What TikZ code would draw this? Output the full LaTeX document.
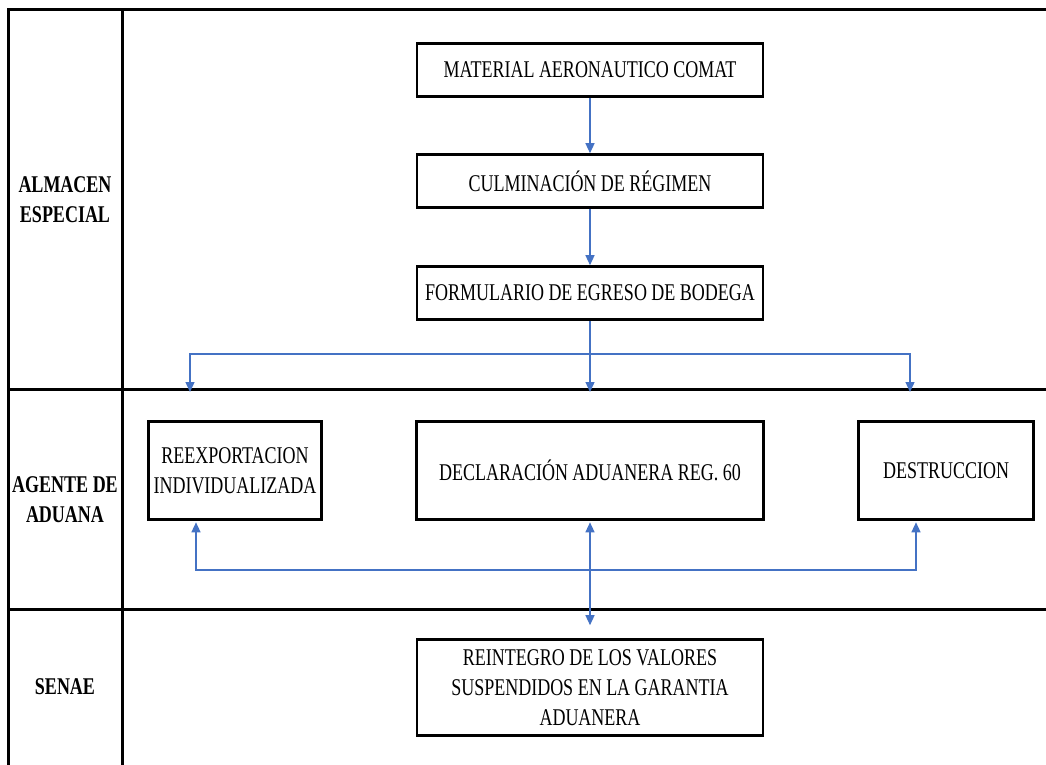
\documentclass[tikz,border=0pt]{standalone}
\usepackage{fontspec}
\setmainfont{Liberation Serif}[FakeStretch=0.75]
\usetikzlibrary{arrows.meta}
\definecolor{flujo}{RGB}{68,114,196}

\begin{document}
\begin{tikzpicture}[%
      x=1pt, y=-1pt,
      caja/.style={draw=black, line width=2.6pt, align=center, inner sep=2pt,
        font=\fontsize{24}{30}\selectfont},
      carril/.style={align=center, font=\fontsize{24}{30}\selectfont\bfseries},
      flecha/.style={color=flujo, line width=1.3pt, -{Triangle[length=10pt,width=9pt]}},
      ]
      \useasboundingbox (0,0) rectangle (1046,764);
      \draw [color=black, line width=3pt] (1046,9.5) -- (8,9.5) -- (8,770);
      \draw [color=black, line width=3pt] (122,9.5) -- (122,770);
      \draw [color=black, line width=3pt] (8,389) -- (1046,389);
      \draw [color=black, line width=3pt] (8,609) -- (1046,609);

      \node [carril] (almacen) at (65,200) {ALMACEN\\ESPECIAL};
      \node [carril] (agente) at (65,500) {AGENTE DE\\ADUANA};
      \node [carril] (senae) at (65,687) {SENAE};

      \node [caja, minimum width=346pt, minimum height=53pt] (material) at (590,70) {MATERIAL AERONAUTICO COMAT};
      \node [caja, minimum width=346pt, minimum height=53pt] (culmina) at (590,181) {CULMINACIÓN DE RÉGIMEN};
      \node [caja, minimum width=346pt, minimum height=53pt] (formulario) at (590,293) {FORMULARIO DE EGRESO DE BODEGA};
      \node [caja, minimum width=173pt, minimum height=98pt] (reexpor) at (235,470.5) {REEXPORTACION\\INDIVIDUALIZADA};
      \node [caja, minimum width=347pt, minimum height=98pt] (declara) at (590,470.5) {DECLARACIÓN ADUANERA REG. 60};
      \node [caja, minimum width=175pt, minimum height=98pt] (destruc) at (946,470.5) {DESTRUCCION};
      \node [caja, minimum width=346pt, minimum height=96pt] (reintegro) at (590,687.5) {REINTEGRO DE LOS VALORES\\SUSPENDIDOS EN LA GARANTIA\\ADUANERA};

      \coordinate (reparto) at (590,354);
      \coordinate (entraReex) at (190,392);
      \coordinate (entraDecl) at (590,392);
      \coordinate (entraDest) at (910,392);
      \coordinate (retorno) at (590,570);

      \draw [flecha] (material) -- (culmina);
      \draw [flecha] (culmina) -- (formulario);
      \draw [flecha] (formulario) -- (entraDecl);
      \draw [flecha] (reparto) -| (entraReex);
      \draw [flecha] (reparto) -| (entraDest);

      \draw [flecha, shorten >=1.5pt] (retorno) -| ([xshift=-39pt]reexpor.south);
      \draw [flecha, shorten >=1.5pt] (retorno) -| ([xshift=-30pt]destruc.south);
      \draw [flecha, {Triangle[length=10pt,width=9pt]}-{Triangle[length=10pt,width=9pt]},
        shorten <=1.5pt, shorten >=13pt] (declara) -- (reintegro);
      \end{tikzpicture}
\end{document}
